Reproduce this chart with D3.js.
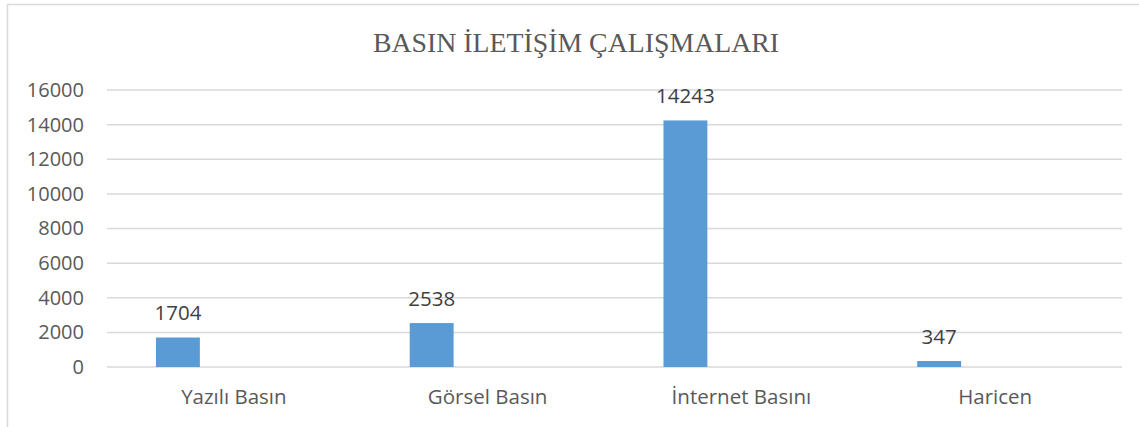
<!DOCTYPE html>
<html>
<head>
<meta charset="utf-8">
<script src="https://cdn.jsdelivr.net/npm/d3@7"></script>
<style>
  body { margin: 0; background: #fff; }
  svg { display: block; }
</style>
</head>
<body>
<svg id="chart"></svg>
<script>
// data
const categories = ['Yazılı Basın', 'Görsel Basın', 'İnternet Basını', 'Haricen'];
const values = [1704, 2538, 14243, 347];
const yTicks = [0, 2000, 4000, 6000, 8000, 10000, 12000, 14000, 16000];
const title = 'BASIN İLETİŞİM ÇALIŞMALARI';

var svgWidth = 1139, svgHeight = 427;
var margin = { top: 90, right: 17, bottom: 60, left: 107 };
var width = svgWidth - margin.left - margin.right;
var height = svgHeight - margin.top - margin.bottom;

var svg = d3.select('#chart')
    .attr('width', svgWidth)
    .attr('height', svgHeight);

// chart area border (runs off the right/bottom edge)
svg.append('rect')
    .attr('x', 7.5).attr('y', 4.5)
    .attr('width', svgWidth + 20).attr('height', svgHeight + 20)
    .attr('fill', 'none')
    .attr('stroke', '#d9d9d9')
    .attr('stroke-width', 1.5);

svg.append('text')
    .attr('x', 576)
    .attr('y', 52)
    .attr('text-anchor', 'middle')
    .attr('font-family', '"Liberation Serif", "Times New Roman", serif')
    .attr('font-size', 27.8)
    .attr('fill', '#595959')
    .text(title);

var g = svg.append('g')
    .attr('transform', 'translate(' + margin.left + ',' + margin.top + ')');

var x = d3.scaleBand().domain(categories).range([0, width]);
var y = d3.scaleLinear().domain([0, 16000]).range([height, 0]);

// gridlines
g.append('g')
    .selectAll('line')
    .data(yTicks)
    .join('line')
    .attr('x1', 0).attr('x2', width)
    .attr('y1', d => y(d)).attr('y2', d => y(d))
    .attr('stroke', '#d9d9d9')
    .attr('stroke-width', 1.5);

var font = '"Open Sans", "Liberation Sans", sans-serif';

// y axis labels
g.append('g')
    .call(d3.axisLeft(y).tickValues(yTicks).tickSize(0).tickPadding(23).tickFormat(d3.format('d')))
    .call(a => a.select('.domain').remove())
    .selectAll('text')
    .attr('font-family', font)
    .attr('font-size', 20)
    .attr('fill', '#595959');

// x axis labels
g.append('g')
    .attr('transform', 'translate(0,' + height + ')')
    .call(d3.axisBottom(x).tickSize(0).tickPadding(22))
    .call(a => a.select('.domain').remove())
    .selectAll('text')
    .attr('font-family', font)
    .attr('font-size', 20.5)
    .attr('fill', '#595959');

// bars sit in the left part of each category slot (empty second series)
var barOff = x.bandwidth() * 0.193;
var barW = x.bandwidth() * 0.173;

g.append('g')
    .selectAll('rect')
    .data(values)
    .join('rect')
    .attr('x', (d, i) => x(categories[i]) + barOff)
    .attr('y', d => y(d))
    .attr('width', barW)
    .attr('height', d => height - y(d))
    .attr('fill', '#5b9bd5');

g.append('g')
    .selectAll('text')
    .data(values)
    .join('text')
    .attr('x', (d, i) => x(categories[i]) + barOff + barW / 2)
    .attr('y', d => y(d) - 17)
    .attr('text-anchor', 'middle')
    .attr('font-family', font)
    .attr('font-size', 20.5)
    .attr('fill', '#404040')
    .text(d => d);
</script>
</body>
</html>
